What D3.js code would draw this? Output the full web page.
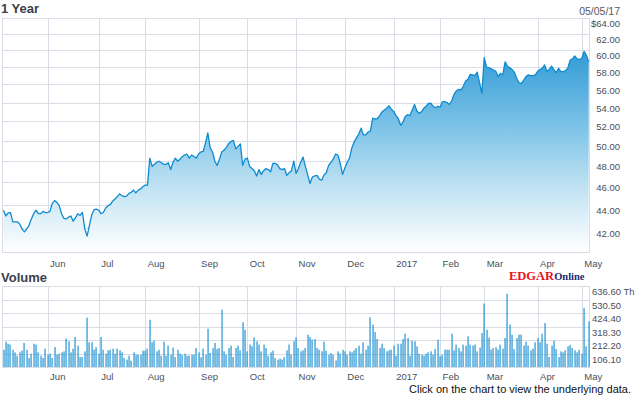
<!DOCTYPE html>
<html>
<head>
<meta charset="utf-8">
<script src="https://cdn.jsdelivr.net/npm/d3@7"></script>
<style>
  body { margin: 0; background: #fff; }
  svg { display: block; font-family: "Liberation Sans", Arial, sans-serif; }
</style>
</head>
<body>
<svg id="chart" width="635" height="395"></svg>
<script>
// month labels and the trading-day index where each month starts
const monthLabels = ["Jun", "Jul", "Aug", "Sep", "Oct", "Nov", "Dec", "2017", "Feb", "Mar", "Apr", "May"]
const monthStarts = [19, 41, 61, 84, 105, 126, 147, 168, 188, 207, 230, 249]

const priceTicks = [42, 44, 46, 48, 50, 52, 54, 56, 58, 60, 62, 64]
const volumeTicks = [106.1, 212.2, 318.3, 424.4, 530.5, 636.6]

// daily closes, May 2016 - May 2017
const closes = [
  43.5, 43.0, 43.27, 43.3, 42.5, 42.5, 42.5, 42.3, 41.9, 41.65,
  41.9, 42.2, 42.75, 43.2, 43.5, 43.2, 43.2, 43.4, 43.3, 43.3,
  43.4, 44.1, 44.35, 44.2, 43.9, 43.2, 42.8, 42.75, 42.9, 43.0,
  42.55, 42.85, 43.2, 43.05, 43.3, 41.9, 41.3, 42.2, 43.1, 43.55,
  43.6, 43.5, 43.2, 43.3, 43.7, 43.9, 44.0, 44.3, 44.5, 44.7,
  44.95, 44.8, 44.7, 44.75, 45.0, 45.1, 45.3, 45.05, 45.3, 45.4,
  45.6, 45.75, 45.75, 48.3, 47.5, 47.7, 47.9, 48.0, 47.85, 47.7,
  47.7, 47.85, 47.2, 47.9, 48.3, 48.0, 48.2, 48.45, 48.6, 48.7,
  48.3, 48.6, 48.45, 48.3, 48.7, 48.9, 48.95, 49.8, 50.8, 49.3,
  48.9, 48.0, 47.6, 48.2, 48.9, 49.1, 49.35, 49.75, 49.95, 50.05,
  49.2, 49.45, 49.7, 47.6, 48.2, 48.3, 47.5, 47.3, 47.1, 46.6,
  47.2, 46.75, 47.1, 47.3, 47.2, 47.0, 47.8, 47.8, 47.65, 47.3,
  47.2, 47.3, 46.65, 46.9, 47.1, 48.0, 46.85, 47.3, 47.9, 48.4,
  47.5, 46.7, 45.9, 46.5, 46.6, 46.65, 46.3, 46.2, 46.7, 46.9,
  47.6, 47.9, 48.2, 48.7, 48.6, 47.8, 46.75, 47.35, 47.9, 48.3,
  49.3, 49.9, 50.3, 50.7, 51.3, 50.6, 50.6, 50.9, 51.0, 52.35,
  52.25, 52.3, 52.6, 53.0, 53.2, 53.4, 53.65, 53.3, 53.05, 52.6,
  52.3, 51.6, 51.9, 52.5, 52.7, 52.6, 53.2, 53.8, 53.1, 52.85,
  53.0, 53.4, 53.6, 53.9, 53.95, 53.6, 53.45, 53.6, 53.5, 54.1,
  54.1, 54.0, 53.8, 54.2, 54.9, 55.3, 55.45, 55.4, 55.8, 56.4,
  56.6, 57.15, 57.1, 57.0, 57.4, 56.2, 55.0, 59.1, 58.0, 57.9,
  57.8, 57.65, 57.5, 56.9, 57.25, 57.1, 58.6, 58.1, 57.9, 57.7,
  57.4, 56.7, 56.2, 56.1, 56.5, 56.9, 57.1, 57.0, 57.0, 57.1,
  57.5, 57.7, 57.85, 58.25, 57.5, 57.7, 58.1, 57.7, 57.35, 57.85,
  57.5, 57.45, 57.6, 57.85, 58.8, 58.95, 59.3, 58.95, 58.9, 59.0,
  59.85, 59.4, 58.6
]

// daily volume, thousands of shares
const volumes = [
  136, 199, 183, 176, 136, 115, 89, 115, 128, 189,
  136, 71, 105, 183, 176, 115, 89, 71, 144, 97,
  105, 71, 157, 97, 105, 115, 123, 223, 202, 115,
  144, 236, 168, 79, 79, 123, 388, 194, 194, 136,
  157, 105, 236, 136, 105, 131, 136, 144, 105, 144,
  131, 115, 71, 58, 89, 50, 115, 97, 97, 97,
  128, 128, 144, 372, 194, 207, 123, 136, 89, 199,
  89, 168, 97, 152, 79, 136, 105, 97, 105, 89,
  89, 97, 97, 149, 115, 76, 144, 97, 301, 110,
  149, 189, 141, 149,
  451, 123, 97, 149, 168, 79, 149, 168, 131, 351,
  293, 123, 176, 162, 233, 202, 176, 123, 176, 149,
  89, 115, 128, 71, 58, 66, 58, 79, 131, 176,
  97, 202, 233, 149, 123, 131, 149, 254, 236, 215,
  220, 149, 136, 123, 199, 128, 97, 110, 97, 52,
  123, 105, 136, 123, 97, 123, 115, 131, 149, 168,
  105, 194, 136, 168, 390, 333, 275, 220, 149, 183,
  149, 123, 131, 136, 168, 89, 183, 183, 220, 262,
  228, 89, 207, 202, 162, 105,
  97, 89, 105, 115, 123, 97, 141, 215, 84, 97,
  136, 136, 136, 262, 131, 176, 149, 123, 176, 168,
  241, 176, 168, 176, 123, 152, 267, 498, 293, 231,
  136, 149, 155, 136, 176, 144, 228, 576, 333, 254,
  141, 228, 254, 254, 168, 199, 168, 131, 144, 194,
  228, 194, 262, 346, 183, 79, 168, 207, 141, 79,
  123, 115, 131, 162, 173, 149, 131, 115, 136, 105,
  464, 162, 359
]

const svg = d3.select("#chart")
const GRID = "#d8dde6"
const TEXT = "#4a4f5a"
const BLUE = "#0e8bd0"

const left = 2, right = 589
const price = { top: 18, bottom: 252 }
const vol = { top: 286, bottom: 367 }

const x = d3.scaleLinear().domain([0, closes.length - 1]).range([3.5, 588.7])
const y = d3.scaleLog().domain([40, 64]).range([price.bottom, price.top])
const yv = d3.scaleLinear().domain([0, 636.6]).range([vol.bottom, vol.top])

// gradient under the price line
const grad = svg.append("defs").append("linearGradient")
  .attr("id", "fillGrad")
  .attr("gradientUnits", "userSpaceOnUse")
  .attr("x1", 0).attr("x2", 0)
  .attr("y1", price.top).attr("y2", price.bottom)
grad.selectAll("stop")
  .data([[0, "#2a93d2"], [0.2, "#3fa2d9"], [0.45, "#79c1e6"], [0.72, "#bfe2f3"], [1, "#ffffff"]])
  .enter().append("stop")
  .attr("offset", d => d[0])
  .attr("stop-color", d => d[1])

function drawGrid(g, top, bottom, yTicks, ys) {
  g.selectAll("line.h")
    .data(yTicks)
    .enter().append("line")
    .attr("class", "h")
    .attr("x1", left).attr("x2", right)
    .attr("y1", d => Math.round(ys(d)) + 0.5)
    .attr("y2", d => Math.round(ys(d)) + 0.5)
    .attr("stroke", GRID)

  g.selectAll("line.v")
    .data(monthStarts)
    .enter().append("line")
    .attr("class", "v")
    .attr("x1", d => Math.round(x(d)) + 0.5)
    .attr("x2", d => Math.round(x(d)) + 0.5)
    .attr("y1", top).attr("y2", bottom)
    .attr("stroke", GRID)

  // frame: left, right, bottom
  g.append("path")
    .attr("d", `M${left + 0.5},${top}V${bottom + 0.5}H${right + 0.5}V${top}`)
    .attr("fill", "none")
    .attr("stroke", GRID)
}

// month labels sit just right of their gridline
function drawMonths(baseline) {
  const axis = d3.axisBottom(x)
    .tickValues(monthStarts)
    .tickFormat((d, i) => monthLabels[i])
    .tickSize(0)
  const g = svg.append("g")
    .attr("transform", `translate(0,${baseline})`)
    .call(axis)
  g.select(".domain").remove()
  g.selectAll("text")
    .attr("x", 2)
    .attr("y", 0)
    .attr("dy", 0)
    .attr("text-anchor", "start")
    .attr("fill", TEXT)
    .attr("font-size", 9.5)
    .attr("font-family", "Liberation Sans, Arial, sans-serif")
}

// ---- price panel
const pg = svg.append("g")
drawGrid(pg, price.top, price.bottom, priceTicks, y)

pg.append("path")
  .datum(closes)
  .attr("fill", "url(#fillGrad)")
  .attr("d", d3.area().x((d, i) => x(i)).y0(price.bottom).y1(d => y(d)))

pg.append("path")
  .datum(closes)
  .attr("fill", "none")
  .attr("stroke", BLUE)
  .attr("stroke-width", 1.3)
  .attr("stroke-linejoin", "round")
  .attr("d", d3.line().x((d, i) => x(i)).y(d => y(d)))

const pAxis = svg.append("g")
  .attr("transform", `translate(${right},0)`)
  .call(d3.axisRight(y).tickValues(priceTicks).tickSize(0)
    .tickFormat(d => (d === 64 ? "$" : "") + d3.format(".2f")(d)))
pAxis.select(".domain").remove()
pAxis.selectAll("text")
  .attr("x", 31)
  .attr("y", 5.5)
  .attr("text-anchor", "end")
  .attr("fill", TEXT)
  .attr("font-size", 9.5)
  .attr("font-family", "Liberation Sans, Arial, sans-serif")

drawMonths(267)

// ---- volume panel
const vg = svg.append("g")
drawGrid(vg, vol.top, vol.bottom, volumeTicks, yv)

vg.selectAll("rect.bar")
  .data(volumes)
  .enter().append("rect")
  .attr("class", "bar")
  .attr("x", (d, i) => Math.round(x(i)) - 0.5)
  .attr("width", 1.1)
  .attr("y", d => yv(d))
  .attr("height", d => vol.bottom - yv(d))
  .attr("fill", BLUE)

const vAxis = svg.append("g")
  .attr("transform", `translate(${right},0)`)
  .call(d3.axisRight(yv).tickValues(volumeTicks).tickSize(0)
    .tickFormat(d => d3.format(".2f")(d) + (d === 636.6 ? " Th" : "")))
vAxis.select(".domain").remove()
vAxis.selectAll("text")
  .attr("x", 3)
  .attr("y", 5.5)
  .attr("text-anchor", "start")
  .attr("fill", TEXT)
  .attr("font-size", 9.5)
  .attr("font-family", "Liberation Sans, Arial, sans-serif")

drawMonths(379.5)

// ---- titles and notes
svg.append("text")
  .attr("x", 1).attr("y", 13)
  .attr("font-size", 13).attr("font-weight", "bold")
  .attr("fill", "#3a3f4a")
  .text("1 Year")

svg.append("text")
  .attr("x", 620).attr("y", 14.5)
  .attr("text-anchor", "end")
  .attr("font-size", 10.5)
  .attr("fill", "#555a63")
  .text("05/05/17")

svg.append("text")
  .attr("x", 1).attr("y", 282)
  .attr("font-size", 13).attr("font-weight", "bold")
  .attr("fill", "#3a3f4a")
  .text("Volume")

const logo = svg.append("text")
  .attr("x", 509).attr("y", 279.5)
  .attr("font-family", "Liberation Serif, Times New Roman, serif")
  .attr("font-weight", "bold")
logo.append("tspan").attr("font-size", 12.5).attr("fill", "#e8141c").text("EDGAR")
logo.append("tspan").attr("font-size", 10.5).attr("fill", "#1b2b6e").text("Online")

svg.append("text")
  .attr("x", 631).attr("y", 392.5)
  .attr("text-anchor", "end")
  .attr("font-size", 11)
  .attr("fill", "#111")
  .text("Click on the chart to view the underlying data.")
</script>
</body>
</html>
